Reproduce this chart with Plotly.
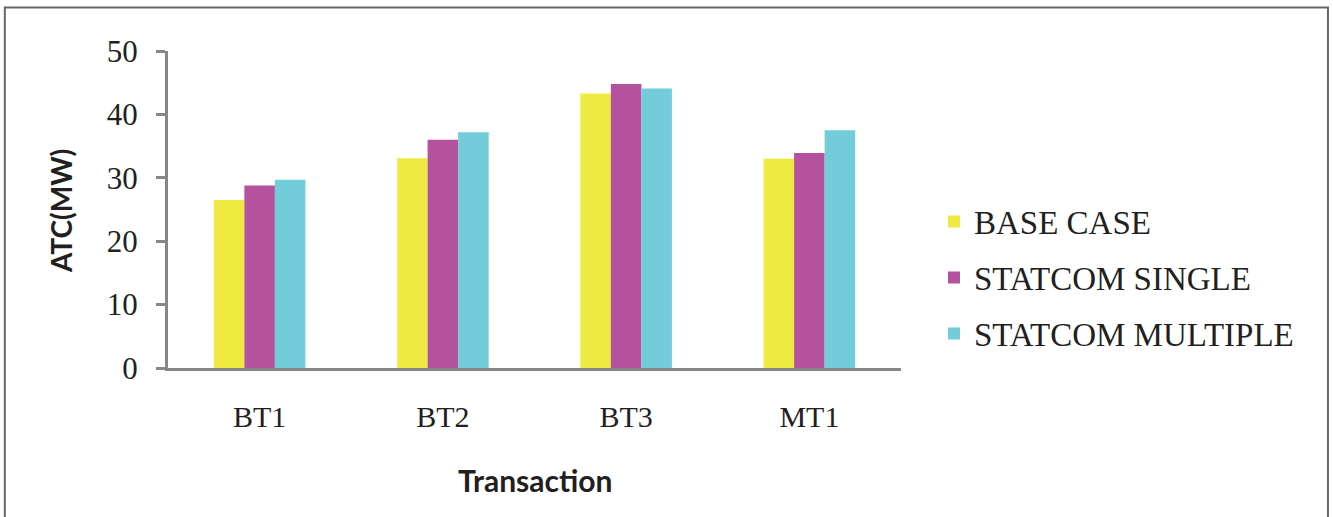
import plotly.graph_objects as go

# ATC values (MW)
transactions = ["BT1", "BT2", "BT3", "MT1"]
series_names = ["BASE CASE", "STATCOM SINGLE", "STATCOM MULTIPLE"]
base_case = [26.5, 33.1, 43.3, 33.0]
statcom_single = [28.8, 36.0, 44.8, 33.9]
statcom_multiple = [29.7, 37.2, 44.1, 37.5]
y_ticks = [0, 10, 20, 30, 40, 50]

colors = ["#EEEA42", "#B4529E", "#72CCD9"]
serif = "Liberation Serif, Times New Roman, serif"
sans = "Lato, Open Sans, sans-serif"
axis_grey = "#878787"
text_col = "#231F20"

fig = go.Figure()
for i, (name, vals) in enumerate(zip(series_names, [base_case, statcom_single, statcom_multiple])):
    fig.add_trace(
        go.Bar(
            x=transactions,
            y=vals,
            name=name,
            legendgroup=f"g{i}",
            marker=dict(color=colors[i], line=dict(width=0)),
            hoverinfo="skip",
        )
    )

fig.update_layout(
    width=1333,
    height=517,
    margin=dict(l=168, r=432, t=51, b=149),
    plot_bgcolor="white",
    paper_bgcolor="white",
    barmode="group",
    bargap=0.5,
    bargroupgap=0,
    font=dict(family=serif, size=30, color=text_col),
    legend=dict(
        x=1.045,
        xanchor="left",
        y=0.285,
        yanchor="middle",
        font=dict(family=serif, size=33, color=text_col),
        tracegroupgap=10,
        bgcolor="rgba(0,0,0,0)",
        borderwidth=0,
    ),
)

fig.update_xaxes(
    showline=True,
    linecolor=axis_grey,
    linewidth=3,
    ticks="",
    showgrid=False,
    zeroline=False,
    tickfont=dict(family=serif, size=30, color=text_col),
    ticklabelstandoff=20,
)
fig.update_yaxes(
    range=[0, 50],
    tickvals=y_ticks,
    showline=True,
    linecolor=axis_grey,
    linewidth=3,
    ticks="outside",
    ticklen=9,
    tickwidth=3,
    tickcolor=axis_grey,
    showgrid=False,
    zeroline=False,
    tickfont=dict(family=serif, size=31, color=text_col),
    ticklabelstandoff=12,
)

fig.add_annotation(
    text="<b>ATC(MW)</b>",
    x=-0.145,
    y=0.494,
    xref="paper",
    yref="paper",
    xanchor="center",
    yanchor="middle",
    textangle=-90,
    showarrow=False,
    font=dict(family=sans, size=28, color=text_col),
)
fig.add_annotation(
    text="<b>Transaction</b>",
    x=0.5,
    y=-0.352,
    xref="paper",
    yref="paper",
    xanchor="center",
    yanchor="middle",
    showarrow=False,
    font=dict(family=sans, size=30, color=text_col),
)

# outer frame around the figure
fig.add_shape(
    type="rect",
    xref="paper",
    yref="paper",
    x0=-0.2226,
    x1=1.5825,
    y0=-0.5,
    y1=1.1376,
    line=dict(color="#666666", width=2),
    fillcolor="rgba(0,0,0,0)",
    layer="below",
)

# drop the default page margin so the figure sits at the window's top-left corner
fig.write_html(
    "out.html",
    config={"displayModeBar": False},
    post_script="document.body.style.margin='0';",
)
